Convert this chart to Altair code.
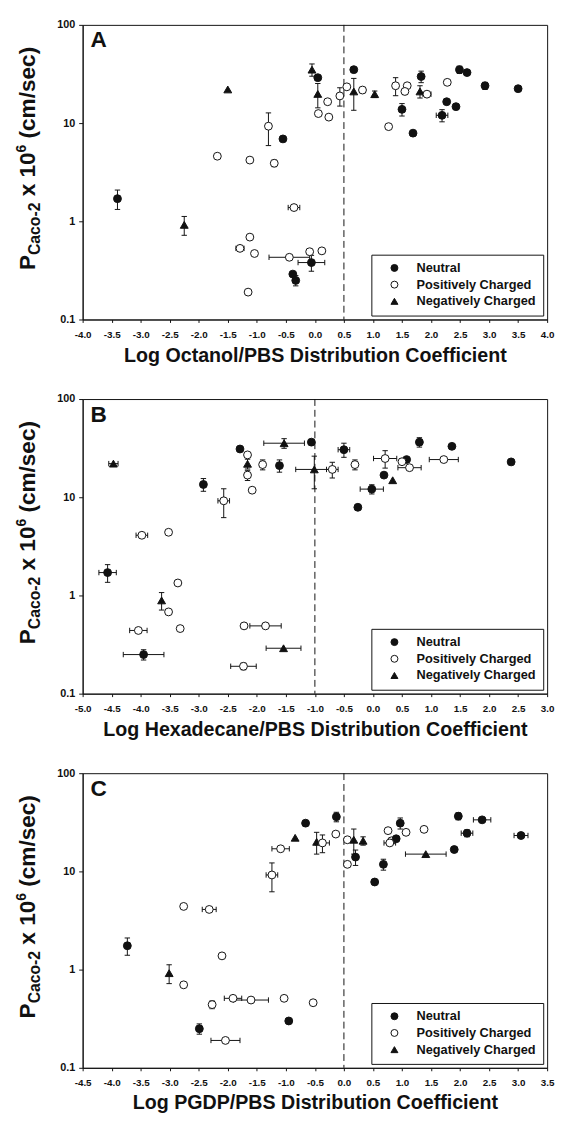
import altair as alt
import pandas as pd

INK = "#111111"
FONT = "Liberation Sans"
TYPES = ["Neutral", "Positively Charged", "Negatively Charged"]
CODE = {"N": "Neutral", "P": "Positively Charged", "A": "Negatively Charged"}

# ---------------- Panel A : Octanol/PBS ----------------
a_x = [-3.40, -2.25, -1.50, -1.68, -1.12, -0.70, -0.80, -0.55, -0.36, -1.12,
       -1.29, -1.04, -0.44, -0.09, 0.12, -0.06, -0.38, -0.33, -1.15, -0.05,
       0.05, 0.67, 0.05, 0.22, 0.06, 0.24, 0.43, 0.55, 0.67, 0.82,
       1.03, 1.39, 1.59, 1.55, 1.83, 1.81, 1.93, 2.28, 2.49, 2.62,
       2.93, 3.50, 1.50, 1.27, 1.69, 2.27, 2.19, 2.43]
a_y = [1.70, 0.92, 22.0, 4.6, 4.2, 3.9, 9.3, 6.9, 1.38, 0.69,
       0.53, 0.47, 0.43, 0.49, 0.50, 0.38, 0.29, 0.25, 0.19, 35.0,
       29.0, 35.0, 19.8, 16.5, 12.5, 11.5, 18.9, 23.4, 21.0, 21.7,
       19.7, 24.0, 24.0, 21.0, 29.8, 21.0, 19.7, 26.0, 35.0, 32.7,
       24.0, 22.4, 13.8, 9.2, 7.9, 16.5, 12.0, 14.7]
a_t = ["N", "A", "A", "P", "P", "P", "P", "N", "P", "P",
       "P", "P", "P", "P", "P", "N", "N", "N", "P", "A",
       "N", "N", "A", "P", "P", "P", "P", "P", "A", "P",
       "A", "P", "P", "P", "N", "A", "P", "P", "N", "N",
       "N", "N", "N", "P", "N", "N", "N", "N"]
a_xe = [0, 0, 0, 0, 0, 0, 0, 0, 0.10, 0,
        0.07, 0, 0.35, 0, 0, 0.23, 0, 0, 0, 0,
        0, 0, 0, 0, 0, 0, 0, 0, 0, 0,
        0, 0, 0, 0, 0, 0, 0.07, 0, 0, 0,
        0, 0, 0, 0, 0, 0, 0.10, 0]
a_ye = [0.38, 0.20, 0, 0, 0, 0.3, 3.4, 0, 0, 0,
        0, 0, 0, 0, 0, 0.07, 0, 0.03, 0.01, 5.0,
        0, 0, 5.5, 0, 0, 0, 4.0, 0, 7.5, 1.5,
        1.5, 5.0, 0, 1.5, 4.0, 3.0, 0, 0, 3.0, 0,
        2.0, 0, 2.0, 0, 0, 0, 1.7, 0]

# ---------------- Panel B : Hexadecane/PBS ----------------
b_x = [-4.47, -3.98, -3.52, -2.92, -2.57, -2.29, -2.16, -2.16, -2.16, -2.08,
       -1.90, -1.61, -1.53, -1.06, -1.01, -0.70, -0.50, -0.31, -0.26, -0.02,
       0.21, 0.19, 0.34, 0.58, 0.50, 0.63, 0.80, 1.22, 1.36, 2.38,
       -4.57, -3.36, -3.64, -3.52, -3.32, -4.04, -3.95, -2.22, -1.85, -1.54,
       -2.23]
b_y = [22.0, 4.1, 4.4, 13.5, 9.2, 31.0, 27.0, 21.9, 16.8, 11.8,
       21.5, 21.0, 35.5, 36.4, 19.2, 19.2, 30.5, 21.5, 7.9, 12.1,
       24.8, 16.8, 14.9, 24.2, 23.0, 20.0, 36.4, 24.2, 33.0, 22.9,
       1.71, 1.34, 0.89, 0.68, 0.46, 0.44, 0.25, 0.49, 0.49, 0.29,
       0.19]
b_t = ["A", "P", "P", "N", "P", "N", "P", "A", "P", "P",
       "P", "N", "A", "N", "A", "P", "N", "P", "N", "N",
       "P", "N", "A", "N", "P", "P", "N", "P", "N", "N",
       "N", "P", "A", "P", "P", "P", "N", "P", "P", "A",
       "P"]
b_xe = [0.08, 0.10, 0, 0, 0.10, 0, 0, 0, 0, 0,
        0, 0, 0.35, 0, 0.32, 0.10, 0.10, 0, 0, 0.20,
        0.20, 0, 0, 0, 0, 0.20, 0, 0.25, 0, 0,
        0.15, 0, 0, 0, 0, 0.15, 0.35, 0, 0.27, 0.30,
        0.22]
b_ye = [0, 0, 0, 2.0, 3.0, 0, 0, 2.5, 2.0, 0,
        2.5, 3.0, 4.0, 0, 7.0, 3.5, 5.0, 2.5, 0, 1.3,
        5.0, 0, 0, 0, 0, 0, 4.0, 0, 0, 0,
        0.35, 0, 0.18, 0, 0, 0, 0.03, 0, 0, 0,
        0.015]

# ---------------- Panel C : PGDP/PBS ----------------
c_x = [-3.73, -3.01, -2.76, -2.10, -2.27, -1.91, -1.60, -1.03, -0.53, -2.49,
       -0.95, -2.04, -2.76, -2.32, -1.24, -1.09, -0.66, -0.84, -0.47, -0.37,
       -0.13, -0.14, 0.06, 0.17, 0.33, 0.06, 0.20, 0.68, 0.53, 0.76,
       0.82, 0.97, 0.90, 1.07, 0.79, 1.38, 1.41, 1.90, 1.97, 2.12,
       2.38, 3.05]
c_y = [1.75, 0.92, 0.70, 1.38, 0.44, 0.51, 0.49, 0.51, 0.46, 0.25,
       0.30, 0.19, 4.4, 4.1, 9.2, 17.0, 31.0, 22.0, 20.0, 19.5,
       36.0, 24.0, 21.0, 21.0, 20.5, 11.8, 14.0, 11.8, 7.8, 26.0,
       20.5, 31.0, 21.5, 25.0, 19.5, 26.8, 15.0, 16.7, 36.5, 24.5,
       33.5, 23.2]
c_t = ["N", "A", "P", "P", "P", "P", "P", "P", "P", "N",
       "N", "P", "P", "P", "P", "P", "N", "A", "A", "P",
       "N", "P", "P", "A", "A", "P", "N", "N", "N", "P",
       "P", "N", "N", "P", "P", "P", "A", "N", "N", "N",
       "N", "N"]
c_xe = [0, 0, 0, 0, 0, 0.15, 0.30, 0, 0, 0,
        0, 0.25, 0, 0.12, 0.10, 0.15, 0, 0, 0, 0.12,
        0, 0, 0, 0, 0, 0, 0, 0, 0, 0,
        0, 0, 0, 0, 0.10, 0, 0.35, 0, 0, 0.10,
        0.15, 0.12]
c_ye = [0.35, 0.20, 0, 0, 0.04, 0, 0, 0, 0, 0.03,
        0, 0, 0, 0, 3.0, 0, 0, 0, 5.0, 4.0,
        4.0, 0, 0, 6.0, 2.0, 0, 2.5, 1.5, 0, 0,
        0, 4.0, 0, 0, 0, 0, 0, 0, 3.0, 2.0,
        0, 0]

a_ticks = [-4.0, -3.5, -3.0, -2.5, -2.0, -1.5, -1.0, -0.5, 0.0, 0.5, 1.0, 1.5, 2.0, 2.5, 3.0, 3.5, 4.0]
b_ticks = [-5.0, -4.5, -4.0, -3.5, -3.0, -2.5, -2.0, -1.5, -1.0, -0.5, 0.0, 0.5, 1.0, 1.5, 2.0, 2.5, 3.0]
c_ticks = [-4.5, -4.0, -3.5, -3.0, -2.5, -2.0, -1.5, -1.0, -0.5, 0.0, 0.5, 1.0, 1.5, 2.0, 2.5, 3.0, 3.5]
y_ticks = [0.1, 1, 10, 100]
ref_lines = [0.5, -1.0, 0.0]

W, H = 473, 300

# Arial-bold advance widths (per 1000 em) for laying out the composed y title
ADV = {"P": 667, "C": 722, "a": 556, "c": 556, "o": 611, "-": 333, "2": 556,
       "x": 556, "1": 556, "0": 556, "6": 556, "(": 333, "m": 889, "/": 278,
       "s": 556, "e": 556, ")": 333, " ": 278}


def tw(s, fs):
    return sum(ADV.get(ch, 556) for ch in s) * fs / 1000.0


def y_title_layers():
    base_x = -48
    pieces = [("P", 23, 0, 0.0), ("Caco-2", 16, 5, 0.0), ("x 10", 23, 0, tw(" ", 23)),
              ("6", 14, -10, 0.0), ("(cm/sec)", 23, 0, tw(" ", 23))]
    total = sum(tw(p, fs) + gap for p, fs, _, gap in pieces)
    y = 136 + total / 2.0
    layers = []
    for text, fs, off, gap in pieces:
        y -= gap
        layers.append(
            alt.Chart(pd.DataFrame({"t": [text]}))
            .mark_text(font=FONT, fontSize=fs, fontWeight="bold", angle=270,
                       align="left", baseline="alphabetic", color=INK)
            .encode(text="t:N", x=alt.value(base_x + off), y=alt.value(y))
        )
        y -= tw(text, fs)
    return layers


def panel(xs, ys, ts, xe, ye, xdom, xticks, letter, xtitle, refx, tpad):
    df = pd.DataFrame({"x": xs, "y": ys, "type": [CODE[t] for t in ts],
                       "xe": xe, "ye": ye})
    df["xlo"] = df["x"] - df["xe"]
    df["xhi"] = df["x"] + df["xe"]
    df["ylo"] = df["y"] - df["ye"]
    df["yhi"] = df["y"] + df["ye"]

    xscale = alt.Scale(domain=xdom, nice=False, zero=False)
    yscale = alt.Scale(type="log", domain=[0.1, 100], nice=False)
    xaxis = alt.Axis(values=xticks, title=xtitle, grid=False, tickSize=3,
                     labelPadding=7, labelFontSize=10, labelFontWeight="bold",
                     labelFlush=False, labelOverlap=False,
                     labelExpr="replace(format(datum.value, '.1f'), '\u2212', '-')",
                     titleFontSize=20, titleFontWeight="bold", titlePadding=tpad,
                     domainColor=INK, tickColor=INK, labelColor=INK, titleColor=INK)
    yaxis = alt.Axis(values=y_ticks, format="~g", title=None, grid=False,
                     tickSize=4, labelPadding=4, labelFontSize=11,
                     labelFontWeight="bold", labelFlush=False, labelOverlap=False,
                     domainColor=INK, tickColor=INK, labelColor=INK)

    def X(f):
        return alt.X(f, type="quantitative", scale=xscale, axis=xaxis)

    def Y(f):
        return alt.Y(f, type="quantitative", scale=yscale, axis=yaxis)

    base = alt.Chart(df)
    vb = base.transform_filter("datum.ye > 0")
    hb = base.transform_filter("datum.xe > 0")
    vbar = vb.mark_rule(color=INK, strokeWidth=1).encode(x=X("x"), y=Y("ylo"), y2=alt.Y2("yhi"))
    vcap1 = vb.mark_point(shape="stroke", size=30, color=INK, strokeWidth=1, opacity=1).encode(x=X("x"), y=Y("ylo"))
    vcap2 = vb.mark_point(shape="stroke", size=30, color=INK, strokeWidth=1, opacity=1).encode(x=X("x"), y=Y("yhi"))
    hbar = hb.mark_rule(color=INK, strokeWidth=1).encode(x=X("xlo"), x2=alt.X2("xhi"), y=Y("y"))
    hcap1 = hb.mark_point(shape="stroke", angle=90, size=30, color=INK, strokeWidth=1, opacity=1).encode(x=X("xlo"), y=Y("y"))
    hcap2 = hb.mark_point(shape="stroke", angle=90, size=30, color=INK, strokeWidth=1, opacity=1).encode(x=X("xhi"), y=Y("y"))

    leg = alt.Legend(title=None, orient="none", legendX=294, legendY=234,
                     fillColor="white", strokeColor=INK, padding=7,
                     labelFont=FONT, labelFontSize=13, labelFontWeight="bold",
                     labelColor=INK, symbolSize=50, symbolStrokeColor=INK,
                     symbolStrokeWidth=1, rowPadding=3, symbolOffset=10,
                     labelOffset=16)
    pts = base.mark_point(filled=True, size=64, strokeWidth=1, opacity=1).encode(
        x=X("x"), y=Y("y"),
        fill=alt.Fill("type:N", scale=alt.Scale(domain=TYPES, range=[INK, "white", INK]), legend=leg),
        stroke=alt.Stroke("type:N", scale=alt.Scale(domain=TYPES, range=[INK, INK, INK]), legend=leg),
        shape=alt.Shape("type:N", scale=alt.Scale(domain=TYPES, range=["circle", "circle", "triangle-up"]), legend=leg),
    )

    rule = alt.Chart(pd.DataFrame({"r": [refx]})).mark_rule(
        strokeDash=[7, 4], color=INK, strokeWidth=1).encode(x=X("r"))

    lab = alt.Chart(pd.DataFrame({"t": [letter]})).mark_text(
        font=FONT, fontSize=23, fontWeight="bold", align="left", baseline="top", color=INK
    ).encode(text="t:N", x=alt.value(8), y=alt.value(5))

    return alt.layer(vbar, vcap1, vcap2, hbar, hcap1, hcap2, rule, pts, lab,
                     *y_title_layers()).properties(width=W, height=H)


pA = panel(a_x, a_y, a_t, a_xe, a_ye, [-4.0, 4.0], a_ticks, "A",
           "Log Octanol/PBS Distribution Coefficient", ref_lines[0], 7)
pB = panel(b_x, b_y, b_t, b_xe, b_ye, [-5.0, 3.0], b_ticks, "B",
           "Log Hexadecane/PBS Distribution Coefficient", ref_lines[1], 7)
pC = panel(c_x, c_y, c_t, c_xe, c_ye, [-4.5, 3.5], c_ticks, "C",
           "Log PGDP/PBS Distribution Coefficient", ref_lines[2], 5)

chart = (
    alt.vconcat(pA, pB, pC, spacing=26)
    .resolve_scale(x="independent", y="independent", fill="independent",
                   shape="independent", stroke="independent")
    .resolve_legend(fill="independent", shape="independent", stroke="independent")
    .properties(padding={"left": 6, "top": 0, "right": 0, "bottom": 0}, background="white")
    .configure(font=FONT)
    .configure_view(stroke=INK, strokeWidth=1)
)

chart.save("out.html", embed_options={"renderer": "svg", "actions": False})
